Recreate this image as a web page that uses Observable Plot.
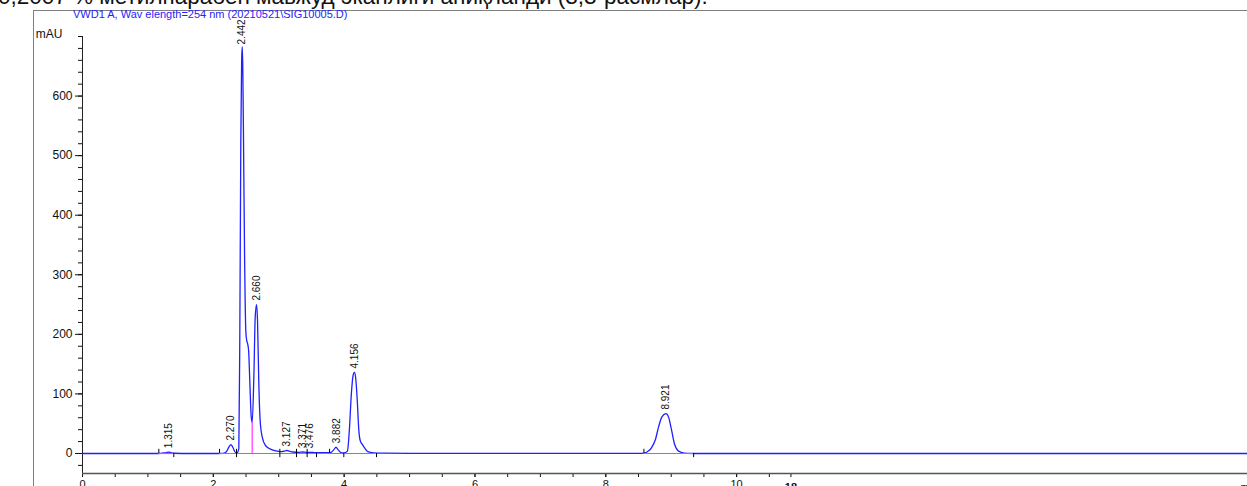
<!DOCTYPE html>
<html><head><meta charset="utf-8">
<script src="https://cdn.jsdelivr.net/npm/d3@7"></script>
<script src="https://cdn.jsdelivr.net/npm/@observablehq/plot@0.6"></script>
<style>
html,body{margin:0;padding:0;background:#fff;overflow:hidden;}
#wrap{position:relative;width:1247px;height:486px;overflow:hidden;font-family:"Liberation Sans",Arial,sans-serif;}
#caption{position:absolute;left:-2px;top:-16px;font-size:22.5px;white-space:nowrap;color:#111;}
#frame{position:absolute;left:33px;top:10px;right:-5px;bottom:-5px;border-top:1.5px solid #808080;border-left:1.5px solid #808080;}
#title{position:absolute;left:73px;top:8px;font-size:11px;color:#2424ff;white-space:nowrap;}
#chart{position:absolute;left:0;top:20px;}
</style></head><body>
<div id="wrap">
<div id="caption">0,2007 % метилпарабен мавжуд эканлиги аниқланди (3,3-расмлар).</div>
<div id="frame"></div>
<div id="title">VWD1 A, Wav elength=254 nm (20210521\SIG10005.D)</div>
<div id="chart"></div>
</div>
<script>
// Chromatogram signal (retention time, min / absorbance, mAU)
const times = [0, 1.1, 1.2, 1.26, 1.31, 1.36, 1.42, 1.6, 2.0, 2.15, 2.2, 2.24, 2.27, 2.30, 2.34, 2.37, 2.39, 2.405, 2.42, 2.433, 2.442, 2.45, 2.462, 2.477, 2.497, 2.51, 2.525, 2.54, 2.558, 2.579, 2.594, 2.62, 2.64, 2.66, 2.676, 2.696, 2.716, 2.747, 2.8, 2.9, 3.0, 3.05, 3.1, 3.127, 3.16, 3.22, 3.3, 3.371, 3.42, 3.476, 3.55, 3.65, 3.75, 3.8, 3.84, 3.875, 3.91, 3.95, 4.0, 4.05, 4.08, 4.11, 4.135, 4.156, 4.175, 4.2, 4.225, 4.25, 4.28, 4.31, 4.36, 4.45, 4.6, 5.0, 6.0, 7.0, 8.0, 8.5, 8.6, 8.65, 8.7, 8.76, 8.81, 8.86, 8.92, 8.96, 9.0, 9.05, 9.1, 9.15, 9.25, 9.5, 12, 15, 17.81];
const mAU = [0, 0, 0.3, 1.2, 2.2, 1.2, 0.4, 0, 0, 0.3, 3, 11, 15, 10, 1.5, 2, 8, 200, 520, 660, 683, 650, 520, 340, 205, 190, 184, 172, 120, 62, 52, 130, 228, 250, 222, 115, 55, 28, 13, 6, 3.5, 3, 4.5, 5, 4, 2.5, 2, 2.5, 2, 2, 1.5, 1.2, 1.5, 2, 6, 10.5, 6, 1.5, 0.8, 4, 40, 100, 130, 136, 128, 90, 38, 20, 15, 10, 3, 1, 0.5, 0.3, 0.2, 0.1, 0.1, 0.1, 1, 4, 10, 24, 46, 62, 67, 61, 42, 16, 5, 2, 0.3, 0, 0, 0, 0];

// Peak annotations
const peakTimes = [1.315, 2.270, 2.442, 2.660, 3.127, 3.371, 3.476, 3.882, 4.156, 8.921];
const peakHeights = [2.2, 15, 680, 250, 5, 2.5, 2, 10.5, 136, 67];
const peakLabels = ["1.315", "2.270", "2.442", "2.660", "3.127", "3.371", "3.476", "3.882", "4.156", "8.921"];

// Integration baselines and event markers
const baseStarts = [1.167, 2.095, 8.583];
const baseEnds = [1.396, 4.495, 9.343];
const dropTimes = [2.594];
const dropHeights = [52];
const markUp = [1.167, 2.095, 2.355, 3.017, 3.272, 3.434, 3.777, 8.583];
const markDown = [1.396, 2.355, 3.017, 3.272, 3.434, 3.578, 3.995, 4.495, 9.343];

// Axis ticks
const xTicks = [0, 2, 4, 6, 8, 10];
const xMinor = [0, 0.5, 1, 1.5, 2, 2.5, 3, 3.5, 4, 4.5, 5, 5.5, 6, 6.5, 7, 7.5, 8, 8.5, 9, 9.5, 10, 10.5, 10.83];
const yTicks = [0, 100, 200, 300, 400, 500, 600];
const yMinor = [-20, 0, 20, 40, 60, 80, 100, 120, 140, 160, 180, 200, 220, 240, 260, 280, 300, 320, 340, 360, 380, 400, 420, 440, 460, 480, 500, 520, 540, 560, 580, 600, 620, 640, 660, 680, 700];
const extraXLabel = ["18"];
const extraXLabelPos = [10.83];
const yUnit = "mAU";
const xUnit = "min";

const signal = times.map((t, i) => ({t, v: mAU[i]}));
const peaks = peakTimes.map((t, i) => ({t, h: peakHeights[i], label: peakLabels[i]}));
const baselines = baseStarts.map((a, i) => ({a, b: baseEnds[i]}));
const drops = dropTimes.map((t, i) => ({t, h: dropHeights[i]}));

const yMin = -33.6, yMax = 700, xMax = 17.81;
const blue = "#1f1fff", pink = "#ff33ff";

const chart = Plot.plot({
  width: 1247, height: 466,
  marginLeft: 82, marginRight: 0, marginTop: 16, marginBottom: 13,
  x: {domain: [0, xMax]},
  y: {domain: [yMin, yMax]},
  style: {fontFamily: "Liberation Sans, Arial, sans-serif", fontSize: "10px", background: "transparent", overflow: "visible", color: "#111"},
  marks: [
    Plot.axisY(yMinor, {tickSize: 4, tickFormat: () => "", label: null}),
    Plot.axisY(yTicks, {tickSize: 7, tickPadding: 3, fontSize: 12, label: null}),
    Plot.axisX(xMinor, {tickSize: 4, tickFormat: () => "", label: null}),
    Plot.axisX(xTicks, {tickSize: 4, tickPadding: 3, fontSize: 11, label: null}),
    Plot.text(extraXLabel.map((s, i) => ({s, x: extraXLabelPos[i]})), {x: "x", y: yMin, text: "s", dy: 14, fontWeight: "bold", fontSize: 11}),
    Plot.text([xUnit], {x: xMax, y: yMin, text: d => d, dx: -7, dy: 14, textAnchor: "start", fontSize: 11}),
    Plot.text([yUnit], {x: 0, y: yMax, text: d => d, dx: -20, dy: -2, textAnchor: "end", fontSize: 12}),
    Plot.ruleX([0], {y1: yMin, y2: yMax, stroke: "#222", strokeWidth: 1}),
    Plot.ruleY([yMin], {stroke: "#555", strokeWidth: 1.6}),
    Plot.line(signal, {x: "t", y: "v", stroke: blue, strokeWidth: 1.3, curve: "monotone-x"}),
    Plot.ruleY(baselines, {y: 0, x1: "a", x2: "b", stroke: pink, strokeWidth: 1.2}),
    Plot.ruleX(drops, {x: "t", y1: 0, y2: "h", stroke: pink, strokeWidth: 1.2}),
    Plot.ruleX(markUp, {x: d => d, y1: 0, y2: 7, stroke: "#000", strokeWidth: 1}),
    Plot.ruleX(markDown, {x: d => d, y1: 0, y2: -7, stroke: "#000", strokeWidth: 1}),
    Plot.text(peaks, {x: "t", y: "h", text: "label", rotate: -90, textAnchor: "start", dy: -4, fontSize: 10, fill: "#111"})
  ]
});
document.getElementById("chart").appendChild(chart);
</script>
</body></html>
